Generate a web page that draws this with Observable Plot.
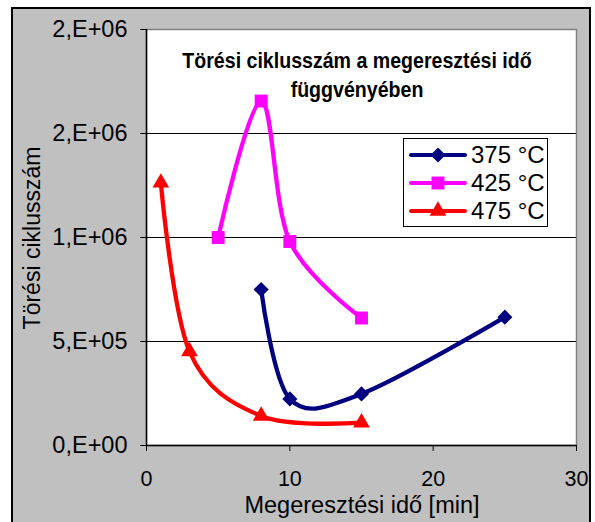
<!DOCTYPE html>
<html><head><meta charset="utf-8">
<script src="https://cdn.jsdelivr.net/npm/d3@7"></script>
<script src="https://cdn.jsdelivr.net/npm/@observablehq/plot@0.6"></script>
<style>
body{margin:0;background:#fff;font-family:Arial,"Liberation Sans",sans-serif;}
#wrap{position:relative;width:595px;height:522px;overflow:hidden;}
#bg{position:absolute;left:11px;top:7px;width:580px;height:530px;background:#c0c0c0;border:2px solid #000;box-sizing:border-box;}
#chart{position:absolute;left:0;top:0;}
#title{position:absolute;left:107px;top:46px;width:500px;text-align:center;font-weight:bold;font-size:22px;line-height:29px;color:#000;transform:scaleX(0.89);transform-origin:250px 0;}
#legend{position:absolute;left:403px;top:138px;width:145px;height:89px;box-sizing:border-box;border:1px solid #000;background:#fff;}
.row{position:absolute;left:5px;height:28px;display:flex;align-items:center;font-size:24px;line-height:28px;}
.row svg{margin-right:4px;}
#ytitle{position:absolute;left:32px;top:238px;transform:translate(-50%,-50%) rotate(-90deg);font-size:23px;line-height:1;white-space:nowrap;}
#xtitle{position:absolute;left:362px;top:494px;transform:translateX(-50%);font-size:23.5px;line-height:1;white-space:nowrap;}
</style>
</head><body>
<div id="wrap">
<div id="bg"></div>
<div id="chart"></div>
<div id="title">Törési ciklusszám a megeresztési idő<br>függvényében</div>
<div id="legend"></div>
<div id="ytitle">Törési ciklusszám</div>
<div id="xtitle">Megeresztési idő [min]</div>
</div>
<script>
const seriesNames = ["375 °C", "425 °C", "475 °C"];
const seriesColors = ["#000080", "#ff00ff", "#ff0000"];
const seriesSymbols = ["diamond2", "square", "triangle"];
const seriesR = [6.8, 7.3, 6.2];
const times375 = [8, 10, 15, 25];
const cycles375 = [750000, 224000, 248000, 617000];
const times425 = [5, 8, 10, 15];
const cycles425 = [1000000, 1656000, 981000, 613000];
const times475 = [1, 3, 8, 15];
const cycles475 = [1263000, 452000, 142000, 110000];
const yTicks = [0, 500000, 1000000, 1500000, 2000000];
const yTickLabels = ["0,E+00", "5,E+05", "1,E+06", "2,E+06", "2,E+06"];
const xTicks = [0, 10, 20, 30];
const yGrid = [500000, 1000000, 1500000];

const times = [times375, times425, times475];
const cycles = [cycles375, cycles425, cycles475];
const data = seriesNames.map((s, i) => times[i].map((t, j) => ({series: s, time: t, cycles: cycles[i][j]})));
const labelOf = new Map(yTicks.map((v, i) => [v, yTickLabels[i]]));

const marks = [
  Plot.frame({fill: "white", stroke: "#808080", strokeWidth: 1.5}),
  Plot.ruleY(yGrid, {stroke: "#000", strokeWidth: 1}),
  Plot.axisY(yTicks, {tickSize: 6, tickPadding: 13, tickFormat: d => labelOf.get(d), fontSize: 23.5, label: null, stroke: "#000"}),
  Plot.axisX(xTicks, {tickSize: 6, tickPadding: 19, fontSize: 21.5, label: null, stroke: "#000"}),
  Plot.ruleX([0], {stroke: "#000", strokeWidth: 1.5}),
  Plot.ruleY([0], {stroke: "#000", strokeWidth: 1.5})
];
data.forEach((d, i) => {
  marks.push(Plot.line(d, {x: "time", y: "cycles", stroke: seriesColors[i], strokeWidth: 4.3, curve: "cardinal"}));
});
data.forEach((d, i) => {
  marks.push(Plot.dot(d, {x: "time", y: "cycles", symbol: () => seriesSymbols[i], fill: seriesColors[i], stroke: "none", r: seriesR[i]}));
});

const chart = Plot.plot({
  width: 595,
  height: 522,
  marginLeft: 146,
  marginRight: 19,
  marginTop: 29,
  marginBottom: 77,
  x: {domain: [0, 30]},
  y: {domain: [0, 2000000]},
  symbol: {type: "identity"},
  style: {background: "transparent", fontFamily: "Arial, 'Liberation Sans', sans-serif", color: "#000"},
  marks
});
document.getElementById("chart").appendChild(chart);

const legend = document.getElementById("legend");
seriesNames.forEach((s, i) => {
  const row = document.createElement("div");
  row.className = "row";
  row.style.top = (2 + i * 28) + "px";
  const sw = d3.create("svg").attr("width", 58).attr("height", 20);
  sw.append("line").attr("x1", 2).attr("x2", 56).attr("y1", 10).attr("y2", 10)
    .attr("stroke", seriesColors[i]).attr("stroke-width", 4).attr("stroke-linecap", "round");
  const sym = {diamond2: d3.symbolDiamond2, square: d3.symbolSquare, triangle: d3.symbolTriangle}[seriesSymbols[i]];
  sw.append("path").attr("transform", "translate(29,10)")
    .attr("d", d3.symbol(sym, Math.PI * seriesR[i] * seriesR[i])()).attr("fill", seriesColors[i]);
  row.appendChild(sw.node());
  const t = document.createElement("span");
  t.textContent = s;
  row.appendChild(t);
  legend.appendChild(row);
});
</script>
</body></html>
